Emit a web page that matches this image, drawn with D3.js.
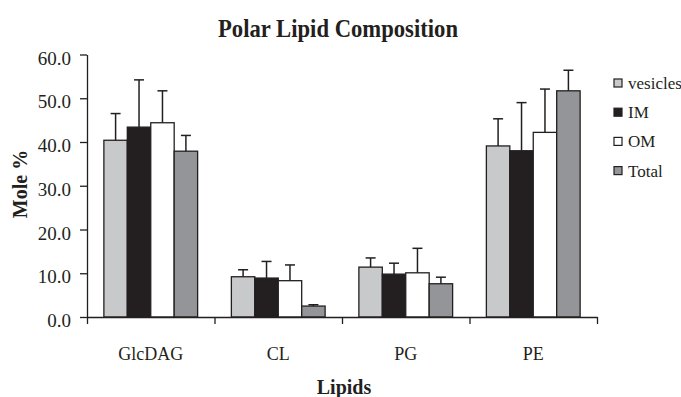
<!DOCTYPE html>
<html>
<head>
<meta charset="utf-8">
<script src="https://cdn.jsdelivr.net/npm/d3@7"></script>
<style>
  body { margin: 0; background: #fff; }
  text { font-family: "Liberation Serif", "Times New Roman", serif; fill: #231f20; }
</style>
</head>
<body>
<div id="chart"></div>
<script>
// lipid classes on the x axis
const categories = ['GlcDAG', 'CL', 'PG', 'PE'];
const seriesNames = ['vesicles', 'IM', 'OM', 'Total'];

// mean mole % per series, in category order
const vesicles = [40.4, 9.2, 11.4, 39.1];
const im = [43.4, 8.9, 9.8, 38.0];
const om = [44.4, 8.3, 10.1, 42.2];
const total = [37.9, 2.5, 7.6, 51.7];

// upper error (standard deviation) per series
const vesiclesErr = [6.1, 1.6, 2.1, 6.2];
const imErr = [10.8, 3.8, 2.5, 11.0];
const omErr = [7.3, 3.6, 5.6, 9.9];
const totalErr = [3.6, 0.3, 1.5, 4.7];

const yTicks = [0, 10, 20, 30, 40, 50, 60];

const colors = ['#c8c9cb', '#231f20', '#ffffff', '#939598'];

const width = 681, height = 397;
const values = [vesicles, im, om, total];
const errors = [vesiclesErr, imErr, omErr, totalErr];

// build rows for d3
const data = categories.map((c, i) => ({
  category: c,
  bars: seriesNames.map((s, j) => ({ series: s, value: values[j][i], err: errors[j][i] }))
}));

const svg = d3.select('#chart').append('svg')
  .attr('width', width)
  .attr('height', height);

const x0 = d3.scaleBand()
  .domain(categories)
  .range([87, 597])
  .padding(0);

const x1 = d3.scaleBand()
  .domain(seriesNames)
  .range([0, x0.bandwidth()])
  .paddingInner(0)
  .paddingOuter(0.72);

const y = d3.scaleLinear()
  .domain([0, 60])
  .range([317, 54.5]);

const color = d3.scaleOrdinal().domain(seriesNames).range(colors);

// title
svg.append('text')
  .attr('x', 338)
  .attr('y', 37)
  .attr('text-anchor', 'middle')
  .attr('textLength', 240)
  .attr('lengthAdjust', 'spacingAndGlyphs')
  .style('font-size', '26px')
  .style('font-weight', 'bold')
  .text('Polar Lipid Composition');

// bars
const groups = svg.selectAll('.group')
  .data(data)
  .enter().append('g')
  .attr('class', 'group')
  .attr('transform', d => 'translate(' + x0(d.category) + ',0)');

groups.selectAll('rect')
  .data(d => d.bars)
  .enter().append('rect')
  .attr('x', d => x1(d.series))
  .attr('y', d => y(d.value))
  .attr('width', x1.bandwidth())
  .attr('height', d => y(0) - y(d.value))
  .attr('fill', d => color(d.series))
  .attr('stroke', '#231f20')
  .attr('stroke-width', 1.3);

// error bars (upper only)
const errs = groups.selectAll('.err')
  .data(d => d.bars)
  .enter().append('g')
  .attr('class', 'err')
  .attr('stroke', '#231f20')
  .attr('stroke-width', 1.5);

errs.append('line')
  .attr('x1', d => x1(d.series) + x1.bandwidth() / 2)
  .attr('x2', d => x1(d.series) + x1.bandwidth() / 2)
  .attr('y1', d => y(d.value))
  .attr('y2', d => y(d.value + d.err));

errs.append('line')
  .attr('x1', d => x1(d.series) + x1.bandwidth() / 2 - 5)
  .attr('x2', d => x1(d.series) + x1.bandwidth() / 2 + 5)
  .attr('y1', d => y(d.value + d.err))
  .attr('y2', d => y(d.value + d.err));

// y axis
const yAxis = svg.append('g')
  .attr('transform', 'translate(87,0)')
  .call(d3.axisLeft(y).tickValues(yTicks).tickFormat(d3.format('.1f')).tickSize(7).tickSizeOuter(0).tickPadding(9));

yAxis.select('.domain').attr('stroke', '#231f20').attr('stroke-width', 1.3);
yAxis.selectAll('.tick line').attr('stroke', '#231f20').attr('stroke-width', 1.3);
yAxis.selectAll('.tick text')
  .attr('dy', '0.5em')
  .style('font-family', '"Liberation Serif", serif')
  .style('font-size', '19px')
  .attr('fill', '#231f20');

// x axis: tick marks at category boundaries
const xb = d3.scaleLinear().domain([0, categories.length]).range([87, 597]);
const xAxis = svg.append('g')
  .attr('transform', 'translate(0,' + y(0) + ')')
  .call(d3.axisBottom(xb).tickValues(d3.range(categories.length + 1)).tickFormat('').tickSize(7).tickSizeOuter(0));

xAxis.select('.domain').attr('stroke', '#231f20').attr('stroke-width', 1.3);
xAxis.selectAll('.tick line').attr('stroke', '#231f20').attr('stroke-width', 1.3);

// category labels
svg.selectAll('.cat')
  .data(categories)
  .enter().append('text')
  .attr('class', 'cat')
  .attr('x', d => x0(d) + x0.bandwidth() / 2)
  .attr('y', 360)
  .attr('text-anchor', 'middle')
  .style('font-size', '18px')
  .text(d => d);

// axis titles
svg.append('text')
  .attr('x', 344)
  .attr('y', 394)
  .attr('text-anchor', 'middle')
  .style('font-size', '20px')
  .style('font-weight', 'bold')
  .text('Lipids');

svg.append('text')
  .attr('transform', 'translate(27,184) rotate(-90)')
  .attr('text-anchor', 'middle')
  .style('font-size', '20px')
  .style('font-weight', 'bold')
  .text('Mole %');

// legend
const legend = svg.selectAll('.legend')
  .data(seriesNames)
  .enter().append('g')
  .attr('class', 'legend')
  .attr('transform', (d, i) => 'translate(614,' + (83 + i * 29.2) + ')');

legend.append('rect')
  .attr('x', 0)
  .attr('y', -4)
  .attr('width', 8)
  .attr('height', 8)
  .attr('fill', d => color(d))
  .attr('stroke', '#231f20')
  .attr('stroke-width', 1.2);

legend.append('text')
  .attr('x', 14)
  .attr('y', 6)
  .style('font-size', '17px')
  .text(d => d);
</script>
</body>
</html>
